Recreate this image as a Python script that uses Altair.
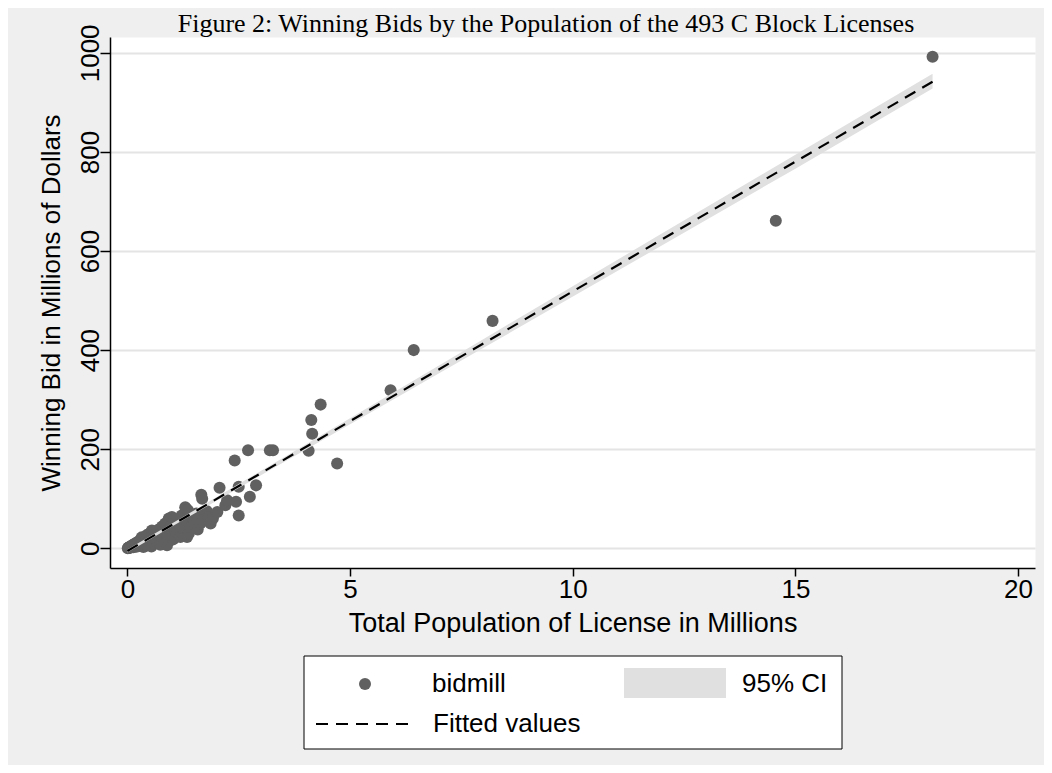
import altair as alt
import pandas as pd

title_text = "Figure 2: Winning Bids by the Population of the 493 C Block Licenses"
x_title = "Total Population of License in Millions"
y_title = "Winning Bid in Millions of Dollars"
x_ticks = [0, 5, 10, 15, 20]
y_ticks = [0, 200, 400, 600, 800, 1000]
legend_labels = ["bidmill", "95% CI", "Fitted values"]

# scatter: population (millions) and winning bid (millions of dollars)
pop_m = [0.01, 0.02, 0.03, 0.04, 0.05, 0.06, 0.07, 0.08, 0.09, 0.10, 0.11, 0.12, 0.13, 0.14,
         0.15, 0.16, 0.18, 0.19, 0.20, 0.21, 0.22, 0.24, 0.25, 0.26, 0.28, 0.29, 0.30, 0.32,
         0.33, 0.35, 0.36, 0.37, 0.39, 0.40, 0.42, 0.44, 0.45, 0.47, 0.48, 0.50, 0.52, 0.54,
         0.55, 0.56, 0.59, 0.60, 0.62, 0.65, 0.67, 0.70, 0.72, 0.74, 0.75, 0.78, 0.80, 0.82,
         0.85, 0.87, 0.89, 0.90, 0.93, 0.95, 0.98, 1.00, 1.03, 1.05, 1.08, 1.10, 1.14, 1.17,
         1.19, 1.22, 1.26, 1.30, 1.32, 1.34, 1.36, 1.38, 1.42, 1.45, 1.50, 1.55, 1.58, 1.64,
         1.66, 1.68, 1.72, 1.78, 1.83, 1.87, 1.92, 2.02, 2.07, 2.20, 2.24, 2.41, 2.44, 2.50,
         2.50, 2.71, 2.75, 2.89, 3.20, 3.27, 4.07, 4.13, 4.15, 4.34, 4.71, 5.91, 6.43, 8.20,
         14.56, 18.08]
bid_m = [0.3, 1.0, 0.5, 2.0, 1.2, 3.0, 1.5, 4.0, 2.5, 5.0, 3.0, 6.5, 2.0, 5.5,
         8.0, 4.0, 9.5, 6.0, 3.0, 11.0, 7.5, 13.0, 9.0, 4.5, 15.0, 11.0, 7.0, 22.0,
         17.0, 12.0, 2.5, 19.5, 9.0, 23.0, 15.0, 27.0, 6.0, 20.0, 12.0, 30.0, 24.0, 3.5,
         36.0, 17.0, 29.7, 10.0, 22.0, 33.0, 15.0, 38.0, 26.0, 7.0, 33.0, 44.0, 20.0, 30.0,
         50.0, 12.0, 6.0, 38.0, 60.0, 26.0, 46.0, 63.0, 18.0, 40.0, 36.0, 55.0, 30.0, 48.0,
         23.0, 66.0, 40.0, 83.0, 56.0, 23.0, 77.0, 30.0, 43.0, 63.0, 52.0, 70.0, 38.0, 50.0,
         108.0, 100.0, 60.0, 75.0, 63.0, 50.0, 60.0, 73.0, 122.0, 87.0, 97.0, 177.0, 94.0, 124.0,
         66.0, 198.0, 104.0, 127.0, 198.0, 198.0, 197.0, 259.0, 231.0, 290.0, 171.0, 319.0, 400.0, 459.0,
         661.0, 992.0]

# fitted values (linear fit) and its 95% confidence band
fit_x = [0.0, 18.08]
fit_y = [-5.4, 941.7]
ci_x = [0.0, 1.0, 2.5, 5.0, 8.0, 12.0, 15.0, 18.08]
ci_lo = [-8.4, 44.0, 121.6, 250.5, 404.6, 611.2, 766.3, 928.0]
ci_hi = [-2.4, 50.0, 129.6, 262.5, 422.6, 635.2, 794.3, 958.0]

pts = pd.DataFrame({"pop": pop_m, "bid": bid_m})
fit = pd.DataFrame({"pop": fit_x, "fit": fit_y})
ci = pd.DataFrame({"pop": ci_x, "lo": ci_lo, "hi": ci_hi})

FONT = "Liberation Sans"
PT_COLOR = "#606060"
CI_COLOR = "#e0e0e0"
DASH = [12, 8]

xs = alt.Scale(domain=[-0.39, 20.38], nice=False, zero=False)
ys = alt.Scale(domain=[-39.8, 1032], nice=False, zero=False)

x_axis = alt.Axis(values=x_ticks, title=x_title, grid=False, labelFlush=False,
                  tickSize=8, labelBaseline="alphabetic", labelPadding=21,
                  titlePadding=8, labelOverlap=False, titleFontSize=27)
y_axis = alt.Axis(values=y_ticks, title=y_title, format="d", grid=True, labelFlush=False,
                  labelAngle=270, labelAlign="center", labelBaseline="alphabetic",
                  tickSize=10, labelPadding=2, titlePadding=13, labelOverlap=False)

points = alt.Chart(pts).mark_circle(size=145, color=PT_COLOR, opacity=1).encode(
    x=alt.X("pop:Q", scale=xs, axis=x_axis),
    y=alt.Y("bid:Q", scale=ys, axis=y_axis),
)
band = alt.Chart(ci).mark_area(color=CI_COLOR, opacity=1).encode(
    x=alt.X("pop:Q", scale=xs, title=x_title),
    y=alt.Y("lo:Q", scale=ys, title=y_title),
    y2="hi:Q",
)
line = alt.Chart(fit).mark_line(color="black", strokeWidth=2.2, strokeDash=DASH).encode(
    x=alt.X("pop:Q", scale=xs, title=x_title),
    y=alt.Y("fit:Q", scale=ys, title=y_title),
)

# title above the plot area
title_mark = alt.Chart(pd.DataFrame({"label": [title_text]})).mark_text(
    align="center", baseline="alphabetic", font="Liberation Serif", fontSize=26,
    color="black", clip=False
).encode(text="label:N", x=alt.value(436), y=alt.value(-5))

# legend (Stata-style box below the plot)
one = pd.DataFrame({"k": [0]})
leg_box = alt.Chart(one).mark_rect(fill="white", stroke="black", strokeWidth=1, clip=False).encode(
    x=alt.value(194), x2=alt.value(732), y=alt.value(619), y2=alt.value(712))
leg_pt = alt.Chart(one).mark_circle(size=145, color=PT_COLOR, opacity=1, clip=False).encode(
    x=alt.value(255), y=alt.value(647))
leg_ci = alt.Chart(one).mark_rect(fill=CI_COLOR, clip=False).encode(
    x=alt.value(514), x2=alt.value(616), y=alt.value(631), y2=alt.value(661))
leg_ln = alt.Chart(one).mark_rule(color="black", strokeWidth=2.2, strokeDash=DASH, clip=False).encode(
    x=alt.value(206), x2=alt.value(306), y=alt.value(687))

def leg_text(label, x, y):
    return alt.Chart(pd.DataFrame({"label": [label]})).mark_text(
        align="left", baseline="middle", font=FONT, fontSize=26, color="black", clip=False
    ).encode(text="label:N", x=alt.value(x), y=alt.value(y))

chart = alt.layer(
    points, band, line, title_mark,
    leg_box, leg_pt, leg_ci, leg_ln,
    leg_text(legend_labels[0], 322, 647),
    leg_text(legend_labels[1], 632, 647),
    leg_text(legend_labels[2], 323, 687),
).properties(
    width=925,
    height=531,
    padding={"left": 102, "top": 29, "right": 9, "bottom": 197},
    autosize=alt.AutoSizeParams(type="none"),
    background="#efefef",
).configure_view(
    fill="white", stroke="transparent"
).configure_axis(
    domainColor="black", tickColor="black", labelColor="black", titleColor="black",
    labelFont=FONT, titleFont=FONT, labelFontSize=26, titleFontSize=26,
    titleFontWeight="normal", domainWidth=1.5, tickWidth=1.5,
    gridColor="#e4e4e4", gridWidth=1.8,
)

chart.save("out.html", embed_options={"renderer": "svg", "actions": False})
